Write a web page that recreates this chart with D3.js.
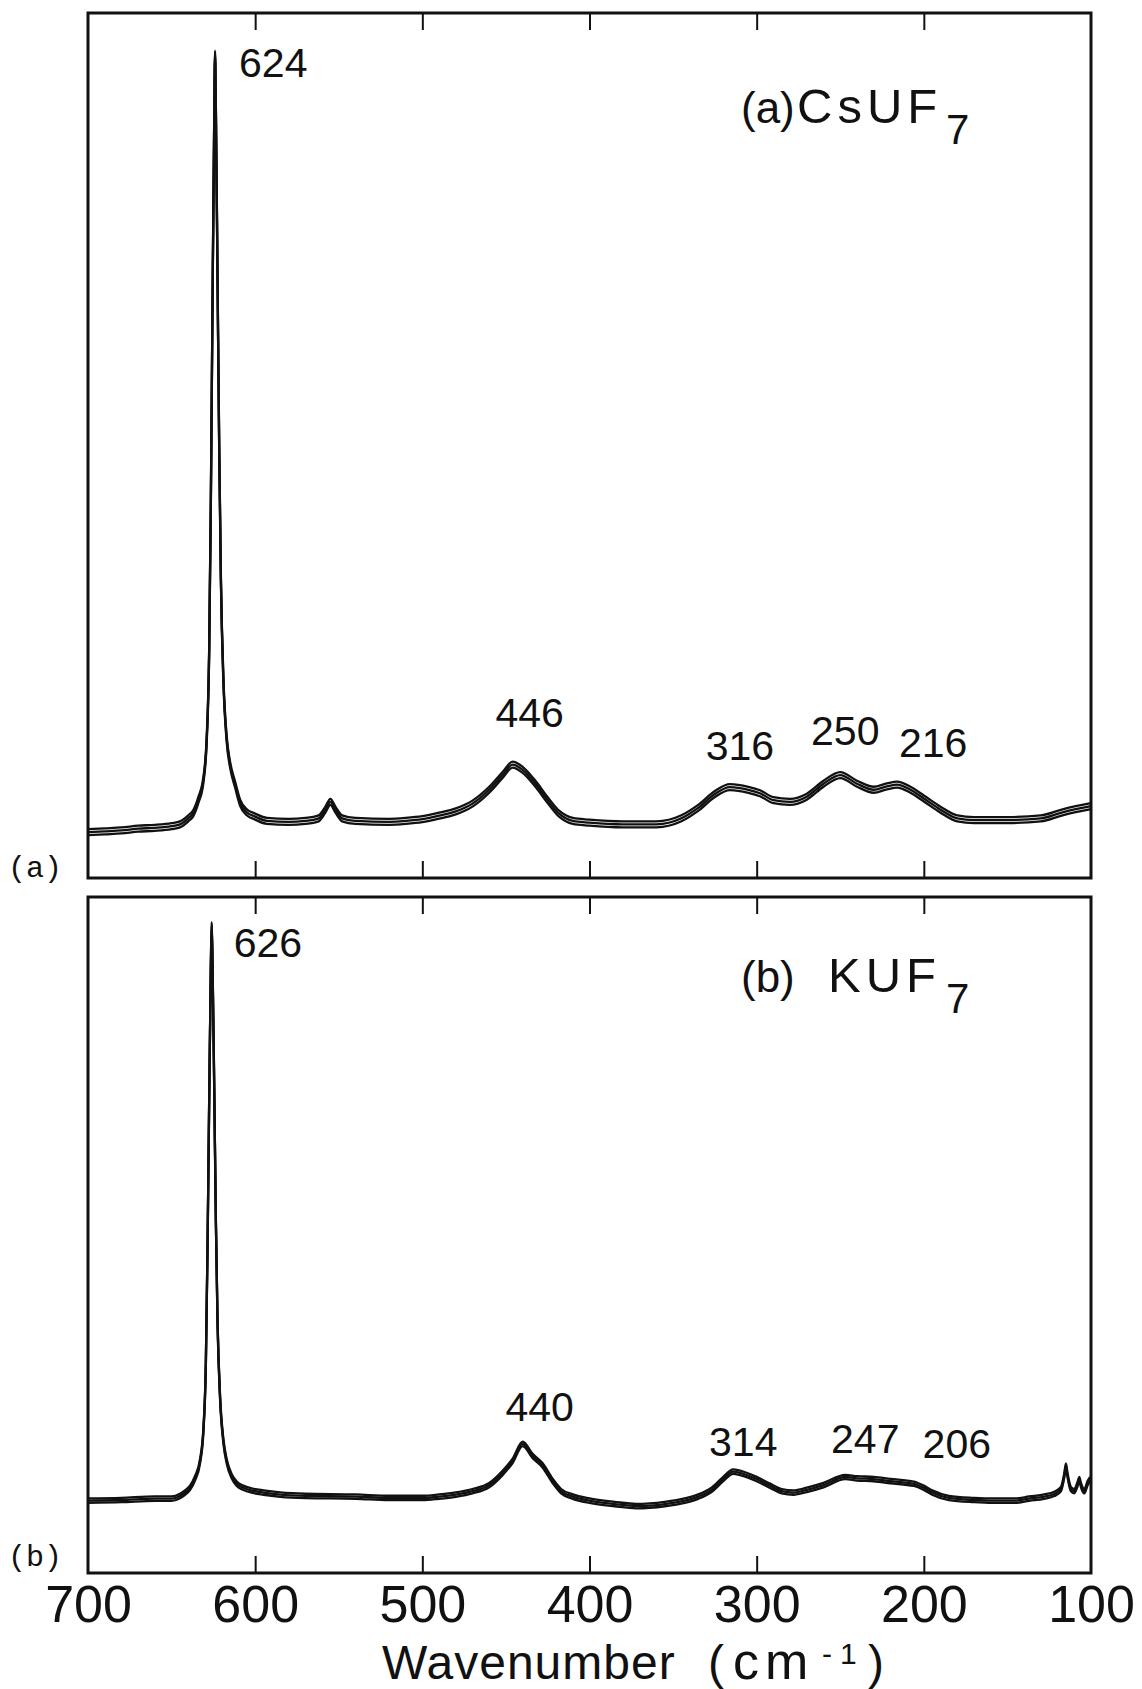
<!DOCTYPE html>
<html>
<head>
<meta charset="utf-8">
<script src="https://cdn.jsdelivr.net/npm/d3@7"></script>
<style>
  html, body { margin: 0; padding: 0; background: #ffffff; }
  svg { display: block; }
</style>
</head>
<body>
<svg id="chart" width="1142" height="1689"></svg>
<script>
// Raman spectra of CsUF7 and KUF7 (relative intensity vs. wavenumber, cm-1)

const csuf7Wavenumber = [700, 690, 680, 670, 660, 650, 645, 640, 637, 634,
  631, 629, 627.5, 626.5, 625.5, 624.5, 624, 623.5, 622.5, 621.5,
  620.5, 619, 617, 615, 612, 609, 605, 600, 593, 580,
  570, 562, 558, 555, 552, 548, 540, 520, 510, 500,
  490, 480, 470, 460, 452, 446, 440, 432, 425, 418,
  410, 400, 380, 360, 345, 335, 325, 316, 305, 298,
  290, 280, 270, 260, 250, 240, 230, 222, 216, 208,
  200, 190, 180, 170, 150, 130, 117, 100];
const csuf7Intensity = [5.3, 5.4, 5.5, 5.7, 5.8, 6.0, 6.2, 6.9, 7.5, 9.0,
  11.3, 16.0, 26.4, 43.7, 66.8, 87.6, 95.3, 88.8, 69.1, 49.5,
  34.5, 22.9, 16.0, 13.1, 10.8, 8.7, 7.6, 7.1, 6.6, 6.5,
  6.6, 6.9, 7.9, 8.8, 7.9, 6.9, 6.6, 6.5, 6.6, 6.8,
  7.2, 7.7, 8.6, 10.2, 11.9, 13.1, 12.5, 10.8, 9.0, 7.4,
  6.6, 6.4, 6.2, 6.2, 6.9, 8.1, 9.7, 10.5, 10.2, 9.8,
  9.0, 8.8, 9.4, 10.9, 11.9, 10.9, 10.2, 10.6, 10.8, 10.2,
  9.2, 7.9, 6.9, 6.7, 6.7, 6.9, 7.6, 8.3];

const kuf7Wavenumber = [700, 680, 660, 650, 645, 642, 639, 636, 633, 631,
  629.5, 628.5, 627.5, 626.5, 626, 625.5, 624.5, 623.5, 622.5, 621,
  619, 617, 614, 611, 607, 602, 595, 585, 570, 540,
  520, 500, 490, 480, 470, 460, 452, 446, 440, 434,
  428, 422, 417, 410, 400, 385, 372, 355, 343, 335,
  327, 320, 314, 306, 300, 292, 285, 278, 270, 260,
  247, 240, 230, 220, 206, 200, 195, 185, 170, 159,
  145, 137, 128, 122, 118, 116, 115, 114, 112, 110,
  108, 107, 106, 104, 102, 100.5];
const kuf7Intensity = [10.7, 10.8, 11.0, 11.0, 11.4, 11.9, 12.6, 14.0, 16.5, 21.0,
  31.0, 48.0, 70.0, 90.0, 96.0, 90.0, 72.0, 52.0, 37.0, 26.0,
  19.5, 16.5, 14.3, 13.2, 12.6, 12.2, 11.9, 11.6, 11.4, 11.3,
  11.1, 11.1, 11.3, 11.6, 12.1, 13.0, 14.8, 16.6, 19.1, 17.3,
  15.9, 13.6, 12.1, 11.3, 10.7, 10.2, 9.9, 10.2, 10.7, 11.3,
  12.3, 13.9, 15.0, 14.5, 13.9, 12.9, 12.1, 11.9, 12.3, 13.0,
  14.2, 14.0, 13.9, 13.6, 13.2, 12.6, 11.9, 11.1, 10.8, 10.7,
  10.7, 11.0, 11.3, 11.7, 12.4, 14.4, 15.9, 14.4, 12.4, 12.1,
  13.2, 13.9, 13.0, 12.1, 13.3, 13.9];

// Assigned band positions (cm-1) written above each spectrum
const csuf7Bands = [624, 446, 316, 250, 216];
const kuf7Bands = [626, 440, 314, 247, 206];

const innerTicks = [600, 500, 400, 300, 200];
const tickLabels = [700, 600, 500, 400, 300, 200, 100];

// ---- layout ----
const LABEL_FONT = "'Liberation Sans', Arial, sans-serif";
const MONO_FONT = "'Liberation Mono', 'DejaVu Sans Mono', monospace";
const INK = "#111";

const x = d3.scaleLinear().domain([700, 100]).range([88, 1091]);

const panels = [
  {
    top: 13, bottom: 878,
    wavenumber: csuf7Wavenumber, intensity: csuf7Intensity,
    bands: csuf7Bands,
    // label placement: [dx from band, rise above trace (px)]
    bandLabelOffsets: [[24, -23], [17, 38], [10, 27], [5, 30], [36, 28]],
    bandLabelAnchor: ["start", "middle", "middle", "middle", "middle"],
    jitter: 3,
    side: "(a)", sideY: 877,
    title: { prefix: "(a)", formula: "CsUF", sub: "7", x0: 741, x1: 797, xs: 946, y: 123, ys: 144 }
  },
  {
    top: 897, bottom: 1573,
    wavenumber: kuf7Wavenumber, intensity: kuf7Intensity,
    bands: kuf7Bands,
    bandLabelOffsets: [[22, -33], [17, 23], [10, 16], [20, 24], [43, 26]],
    bandLabelAnchor: ["start", "middle", "middle", "middle", "middle"],
    jitter: 2.2,
    side: "(b)", sideY: 1566,
    title: { prefix: "(b)", formula: "KUF", sub: "7", x0: 741, x1: 828, xs: 946, y: 992, ys: 1013 }
  }
];

const svg = d3.select("#chart");
svg.append("rect").attr("width", 1142).attr("height", 1689).attr("fill", "#fff");

panels.forEach(p => {
  const y = d3.scaleLinear().domain([0, 100]).range([p.bottom, p.top]);
  const pts = p.wavenumber.map((w, i) => [w, p.intensity[i]]);
  const g = svg.append("g");

  // frame
  g.append("rect")
    .attr("x", x(700)).attr("y", p.top)
    .attr("width", x(100) - x(700)).attr("height", p.bottom - p.top)
    .attr("fill", "none").attr("stroke", INK).attr("stroke-width", 3);

  // inward ticks on the bottom and top edges
  const styleTicks = sel => {
    sel.select(".domain").remove();
    sel.selectAll(".tick line").attr("stroke", INK).attr("stroke-width", 2);
  };
  g.append("g").attr("transform", `translate(0,${p.bottom})`)
    .call(d3.axisBottom(x).tickValues(innerTicks).tickSize(-17).tickFormat(""))
    .call(styleTicks);
  g.append("g").attr("transform", `translate(0,${p.top})`)
    .call(d3.axisTop(x).tickValues(innerTicks).tickSize(-17).tickFormat(""))
    .call(styleTicks);

  // spectrum trace: the noisy recorder line is drawn as a thin vertical band
  const line = d3.line()
    .x(d => x(d[0]))
    .y(d => y(d[1]))
    .curve(d3.curveMonotoneX);
  const traceG = g.append("g");
  [-p.jitter, 0, p.jitter].forEach(off => {
    traceG.append("path")
      .datum(pts)
      .attr("transform", `translate(0,${off})`)
      .attr("d", line)
      .attr("fill", "none")
      .attr("stroke", INK)
      .attr("stroke-width", 2.3)
      .attr("stroke-linejoin", "round");
  });

  // band position labels
  p.bands.forEach((b, i) => {
    const idx = p.wavenumber.indexOf(b);
    const v = p.intensity[idx];
    const [dx, rise] = p.bandLabelOffsets[i];
    g.append("text")
      .attr("x", x(b) + dx)
      .attr("y", y(v) - rise)
      .attr("text-anchor", p.bandLabelAnchor[i])
      .attr("font-family", LABEL_FONT)
      .attr("font-size", 41)
      .attr("fill", INK)
      .text(b);
  });

  // compound title
  const t = g.append("text")
    .attr("font-family", LABEL_FONT)
    .attr("font-size", 44)
    .attr("fill", INK);
  t.append("tspan").attr("x", p.title.x0).attr("y", p.title.y).text(p.title.prefix);
  t.append("tspan").attr("x", p.title.x1).attr("y", p.title.y)
    .attr("font-size", 49).attr("letter-spacing", 5).text(p.title.formula);
  t.append("tspan").attr("x", p.title.xs).attr("y", p.title.ys).attr("font-size", 42).text(p.title.sub);

  // small typed panel tag at the left
  g.append("text")
    .attr("x", 8).attr("y", p.sideY)
    .attr("font-family", MONO_FONT)
    .attr("font-size", 30)
    .attr("fill", INK)
    .text(p.side);
});

// wavenumber tick labels under the lower panel
const labelAxis = svg.append("g")
  .attr("transform", `translate(0,${panels[1].bottom})`)
  .call(d3.axisBottom(x).tickValues(tickLabels).tickSize(0).tickFormat(d3.format("d")));
labelAxis.select(".domain").remove();
labelAxis.selectAll(".tick text")
  .attr("y", 49).attr("dy", null)
  .attr("font-family", LABEL_FONT)
  .attr("font-size", 52)
  .attr("fill", INK);

// axis title
const xt = svg.append("text")
  .attr("font-family", LABEL_FONT)
  .attr("font-size", 48)
  .attr("fill", INK);
xt.append("tspan").attr("x", 382).attr("y", 1679).attr("letter-spacing", 1).text("Wavenumber");
xt.append("tspan").attr("x", 708).attr("y", 1679).text("(");
xt.append("tspan").attr("x", 733).attr("y", 1679).attr("font-size", 52).attr("letter-spacing", 6).text("cm");
xt.append("tspan").attr("x", 822).attr("y", 1664).attr("font-size", 30).attr("letter-spacing", 8).text("-1");
xt.append("tspan").attr("x", 868).attr("y", 1679).text(")");
</script>
</body>
</html>
